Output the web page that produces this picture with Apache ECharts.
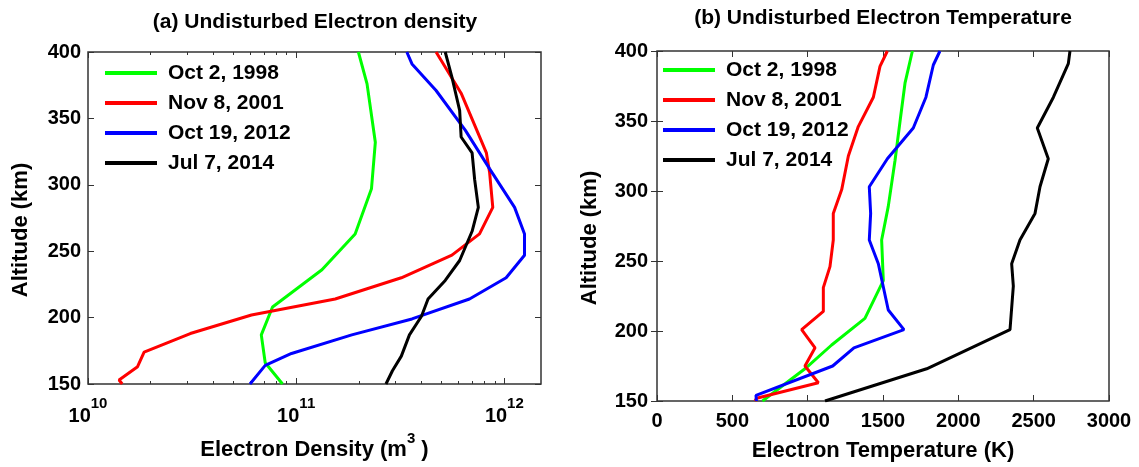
<!DOCTYPE html>
<html>
<head>
<meta charset="UTF-8">
<title>Undisturbed electron density and temperature</title>
<script src="https://cdn.jsdelivr.net/npm/echarts@6/dist/echarts.min.js"></script>
<style>
  html, body { margin: 0; padding: 0; background: #fff; }
  #main { width: 1139px; height: 467px; }
</style>
</head>
<body>
<div id="main"></div>
<script type="text/javascript">
// legend names
var names = ['Oct 2, 1998', 'Nov 8, 2001', 'Oct 19, 2012', 'Jul 7, 2014'];
var colors = ['#00ff00', '#ff0000', '#0000ff', '#000000'];

// (a) electron density, m^-3, against altitude (km)
var altDens1998 = [400, 376, 332, 297, 263, 236, 208, 187, 166, 150];
var dens1998 = [1.99e11, 2.19e11, 2.40e11, 2.30e11, 1.92e11, 1.33e11, 7.7e10, 6.8e10, 7.1e10, 8.6e10];
var altDens2001 = [400, 369, 324, 309, 283, 263, 247, 230, 214, 202, 188, 174, 163, 153, 150];
var dens2001 = [4.7e11, 6.2e11, 8.2e11, 8.5e11, 8.8e11, 7.6e11, 5.6e11, 3.2e11, 1.54e11, 6.1e10, 3.1e10, 1.86e10, 1.73e10, 1.41e10, 1.46e10];
var altDens2012 = [400, 391, 371, 341, 312, 283, 263, 247, 230, 214, 199, 187, 173, 164, 150];
var dens2012 = [3.4e11, 3.6e11, 4.7e11, 6.5e11, 8.5e11, 1.12e12, 1.25e12, 1.25e12, 1.02e12, 6.8e11, 3.6e11, 1.85e11, 9.5e10, 7.1e10, 6.0e10];
var altDens2014 = [400, 381, 356, 336, 324, 304, 283, 265, 243, 228, 214, 201, 187, 171, 160, 150];
var dens2014 = [5.2e11, 5.6e11, 6.1e11, 6.2e11, 7.0e11, 7.2e11, 7.5e11, 7.0e11, 6.1e11, 5.2e11, 4.3e11, 4.0e11, 3.5e11, 3.2e11, 2.9e11, 2.7e11];

// (b) electron temperature, K, against altitude (km)
var altTemp1998 = [400, 377, 353, 322, 289, 265, 236, 209, 190, 173, 150];
var temp1998 = [1695, 1646, 1617, 1580, 1535, 1491, 1502, 1380, 1159, 982, 700];
var altTemp2001 = [400, 389, 367, 346, 325, 301, 284, 265, 246, 231, 214, 201, 188, 175, 163, 152, 150];
var temp2001 = [1529, 1480, 1436, 1336, 1270, 1226, 1170, 1170, 1148, 1104, 1104, 960, 1049, 982, 1071, 661, 650];
var altTemp2012 = [400, 390, 367, 345, 323, 303, 284, 265, 248, 215, 201, 188, 175, 154, 150];
var temp2012 = [1878, 1834, 1785, 1701, 1529, 1409, 1418, 1409, 1469, 1535, 1639, 1307, 1166, 657, 660];
var altTemp2014 = [400, 391, 367, 345, 323, 303, 284, 265, 248, 232, 201, 173, 150];
var temp2014 = [2741, 2730, 2631, 2524, 2597, 2542, 2509, 2409, 2354, 2365, 2343, 1790, 1115];

// tick values
var densMajorTicks = [1e10, 1e11, 1e12];
var densMinorTicks = [2e10, 3e10, 4e10, 5e10, 6e10, 7e10, 8e10, 9e10,
                      2e11, 3e11, 4e11, 5e11, 6e11, 7e11, 8e11, 9e11];

var FONT = 'Liberation Sans, Arial, Helvetica, sans-serif';

function pairs(xs, ys) {
	var out = [];
	for (var i = 0; i < xs.length; i++) out.push([xs[i], ys[i]]);
	return out;
}

var densData = [pairs(dens1998, altDens1998), pairs(dens2001, altDens2001),
                pairs(dens2012, altDens2012), pairs(dens2014, altDens2014)];
var tempData = [pairs(temp1998, altTemp1998), pairs(temp2001, altTemp2001),
                pairs(temp2012, altTemp2012), pairs(temp2014, altTemp2014)];

var labelStyle = { color: '#000', fontSize: 20, fontWeight: 'bold', fontFamily: FONT };
var nameStyle = { color: '#000', fontSize: 22, fontWeight: 'bold', fontFamily: FONT };
var tickStyle = { color: '#333', width: 1 };
var supStyle = { fontSize: 15, fontWeight: 'bold', fontFamily: FONT, color: '#000', lineHeight: 15, verticalAlign: 'top' };

function densAxis(pos, ticks, len, labels) {
	return {
		type: 'log', gridIndex: 0, position: pos,
		min: 1e10, max: 1.5e12,
		axisLine: { show: false },
		splitLine: { show: false },
		axisTick: { show: true, inside: true, length: len, lineStyle: tickStyle, customValues: ticks },
		axisLabel: labels ? {
			show: true, margin: 12, customValues: densMajorTicks,
			formatter: function (v) {
				return '{b|10}{s|' + Math.round(Math.log10(v)) + '}';
			},
			rich: {
				b: { fontSize: 20, fontWeight: 'bold', fontFamily: FONT, color: '#000', lineHeight: 30, verticalAlign: 'bottom' },
				s: supStyle
			}
		} : { show: false }
	};
}

function tempXAxis(pos, labels) {
	return {
		type: 'value', gridIndex: 1, position: pos,
		min: 0, max: 3000, interval: 500,
		axisLine: { show: false },
		splitLine: { show: false },
		axisTick: { show: true, inside: true, length: 6, lineStyle: tickStyle },
		axisLabel: labels ? Object.assign({
			show: true, margin: 10,
			formatter: function (v) { return String(v); }
		}, labelStyle) : { show: false }
	};
}

function altAxis(grid, pos, labels, margin) {
	return {
		type: 'value', gridIndex: grid, position: pos,
		min: 150, max: 400, interval: 50,
		axisLine: { show: false },
		splitLine: { show: false },
		axisTick: { show: true, inside: true, length: 6, lineStyle: tickStyle },
		axisLabel: labels ? Object.assign({ show: true, margin: margin }, labelStyle) : { show: false },
		name: labels ? 'Altitude (km)' : '',
		nameLocation: 'middle',
		nameGap: 56,
		nameTextStyle: Object.assign({ padding: [0, 24, 0, 0] }, nameStyle)
	};
}

var xAxes = [
	densAxis('bottom', densMajorTicks, 6, true),
	densAxis('bottom', densMinorTicks, 3, false),
	densAxis('top', densMajorTicks, 6, false),
	densAxis('top', densMinorTicks, 3, false),
	tempXAxis('bottom', true),
	tempXAxis('top', false)
];
xAxes[0].name = '{n|Electron Density (m}{s|3}{n| )}';
xAxes[0].nameLocation = 'middle';
xAxes[0].nameGap = 47;
xAxes[0].nameTextStyle = {
	rich: {
		n: Object.assign({ lineHeight: 30, verticalAlign: 'bottom' }, nameStyle),
		s: supStyle
	}
};
xAxes[4].name = 'Electron Temperature (K)';
xAxes[4].nameLocation = 'middle';
xAxes[4].nameGap = 39;
xAxes[4].nameTextStyle = nameStyle;

var yAxes = [
	altAxis(0, 'left', true, 7),
	altAxis(0, 'right', false, 0),
	altAxis(1, 'left', true, 9),
	altAxis(1, 'right', false, 0)
];

var series = [];
for (var i = 0; i < names.length; i++) {
	series.push({
		name: names[i], type: 'line', xAxisIndex: 0, yAxisIndex: 0,
		data: densData[i], symbol: 'none', smooth: false,
		lineStyle: { color: colors[i], width: 3 }, itemStyle: { color: colors[i] }
	});
}
for (var j = 0; j < names.length; j++) {
	series.push({
		name: names[j], type: 'line', xAxisIndex: 4, yAxisIndex: 2,
		data: tempData[j], symbol: 'none', smooth: false,
		lineStyle: { color: colors[j], width: 3 }, itemStyle: { color: colors[j] }
	});
}

function legendAt(left, top) {
	return {
		orient: 'vertical', left: left, top: top, padding: 0,
		icon: 'rect', itemWidth: 52, itemHeight: 4, itemGap: 8,
		data: names, selectedMode: false,
		textStyle: { color: '#000', fontSize: 21, fontWeight: 'bold', fontFamily: FONT, lineHeight: 22, padding: [0, 0, 0, 6] }
	};
}

var myChart = echarts.init(document.getElementById('main'));
var option = {
	animation: false,
	backgroundColor: '#fff',
	title: [
		{ text: '(a) Undisturbed Electron density', left: 315, top: 12, textAlign: 'center', padding: 0,
		  textStyle: { color: '#000', fontSize: 21, fontWeight: 'bold', fontFamily: FONT } },
		{ text: '(b) Undisturbed Electron Temperature', left: 883, top: 8, textAlign: 'center', padding: 0,
		  textStyle: { color: '#000', fontSize: 21, fontWeight: 'bold', fontFamily: FONT } }
	],
	legend: [legendAt(105, 62), legendAt(663, 59)],
	grid: [
		{ left: 88, top: 52, width: 453, height: 332, show: true, borderColor: '#333', borderWidth: 1.5, containLabel: false },
		{ left: 657, top: 51, width: 452, height: 350, show: true, borderColor: '#333', borderWidth: 1.5, containLabel: false }
	],
	xAxis: xAxes,
	yAxis: yAxes,
	series: series
};
myChart.setOption(option);
</script>
</body>
</html>
